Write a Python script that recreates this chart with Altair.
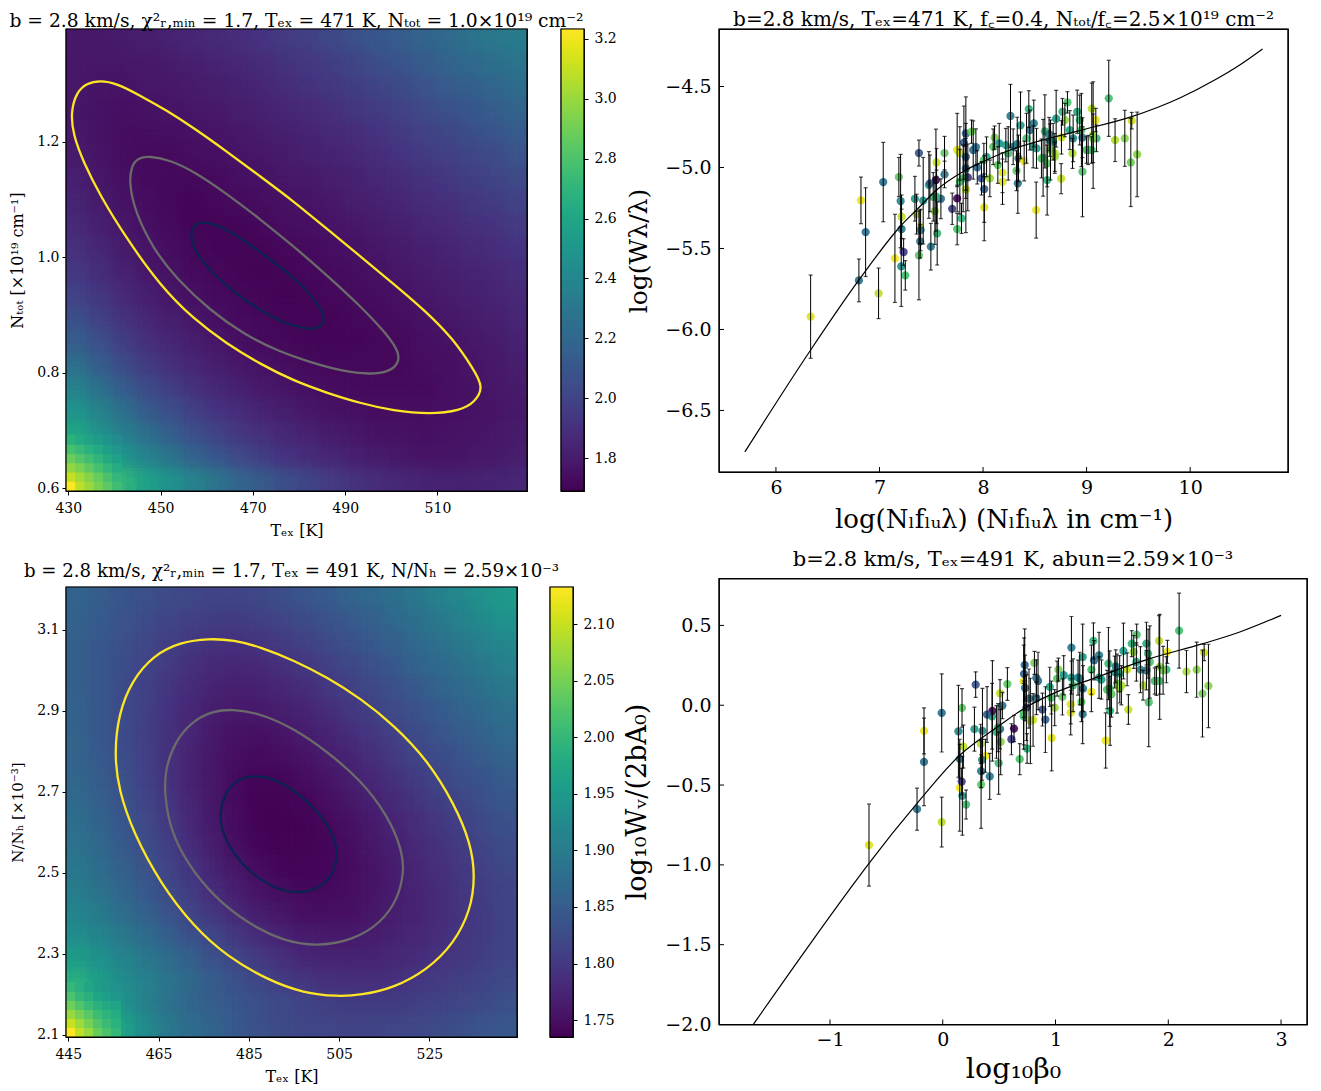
import altair as alt
import numpy as np
import pandas as pd

alt.data_transformers.disable_max_rows()

SERIF = "DejaVu Serif"

# ---------- chi-square maps (rows from top to bottom) ----------
T1_DOMAIN = [429.5, 529.4]
N1_DOMAIN = [0.595, 1.395]
CHI1 = [
[1.79,1.79,1.80,1.81,1.83,1.85,1.87,1.89,1.92,1.95,1.98,2.02,2.06,2.10,2.14,2.18,2.22,2.26,2.30,2.33],
[1.78,1.78,1.78,1.79,1.80,1.82,1.84,1.86,1.88,1.91,1.94,1.97,2.01,2.05,2.09,2.13,2.17,2.21,2.25,2.28],
[1.78,1.77,1.77,1.78,1.78,1.80,1.81,1.83,1.85,1.88,1.91,1.94,1.97,2.00,2.04,2.08,2.12,2.16,2.19,2.23],
[1.78,1.76,1.75,1.76,1.77,1.78,1.79,1.81,1.83,1.85,1.87,1.90,1.93,1.96,1.99,2.03,2.07,2.10,2.14,2.18],
[1.79,1.76,1.74,1.74,1.75,1.76,1.77,1.79,1.80,1.82,1.84,1.87,1.89,1.92,1.95,1.99,2.02,2.05,2.09,2.13],
[1.80,1.77,1.74,1.73,1.73,1.74,1.75,1.77,1.78,1.80,1.82,1.84,1.86,1.89,1.92,1.95,1.98,2.01,2.04,2.08],
[1.82,1.78,1.75,1.73,1.72,1.72,1.73,1.75,1.76,1.78,1.79,1.81,1.83,1.86,1.88,1.91,1.94,1.97,2.00,2.03],
[1.84,1.80,1.76,1.74,1.72,1.71,1.72,1.73,1.74,1.76,1.77,1.79,1.81,1.83,1.85,1.88,1.90,1.93,1.96,1.99],
[1.87,1.82,1.78,1.75,1.73,1.71,1.71,1.71,1.72,1.74,1.75,1.77,1.78,1.80,1.82,1.85,1.87,1.90,1.92,1.95],
[1.90,1.85,1.80,1.77,1.74,1.72,1.71,1.71,1.71,1.72,1.73,1.75,1.76,1.78,1.80,1.82,1.84,1.87,1.89,1.92],
[1.94,1.88,1.83,1.79,1.76,1.73,1.72,1.71,1.70,1.71,1.72,1.73,1.74,1.76,1.78,1.80,1.82,1.84,1.86,1.89],
[1.99,1.93,1.87,1.82,1.78,1.75,1.73,1.72,1.71,1.70,1.71,1.72,1.73,1.74,1.76,1.78,1.80,1.82,1.84,1.87],
[2.05,1.98,1.91,1.86,1.81,1.78,1.75,1.73,1.72,1.71,1.71,1.71,1.72,1.73,1.74,1.76,1.78,1.80,1.82,1.85],
[2.14,2.05,1.97,1.90,1.85,1.81,1.78,1.75,1.73,1.72,1.71,1.71,1.71,1.72,1.73,1.75,1.76,1.78,1.80,1.83],
[2.24,2.13,2.04,1.96,1.90,1.85,1.81,1.78,1.76,1.74,1.73,1.72,1.72,1.72,1.72,1.74,1.75,1.77,1.79,1.81],
[2.36,2.24,2.13,2.04,1.97,1.91,1.86,1.82,1.79,1.77,1.75,1.74,1.73,1.73,1.73,1.73,1.75,1.76,1.78,1.80],
[2.48,2.36,2.24,2.13,2.05,1.98,1.92,1.88,1.84,1.81,1.78,1.76,1.75,1.74,1.74,1.74,1.75,1.76,1.77,1.79],
[2.60,2.47,2.35,2.25,2.15,2.07,2.00,1.94,1.90,1.86,1.83,1.80,1.78,1.76,1.76,1.75,1.76,1.77,1.78,1.80],
[2.80,2.62,2.48,2.37,2.28,2.18,2.10,2.03,1.97,1.92,1.88,1.85,1.82,1.80,1.78,1.77,1.77,1.78,1.79,1.81],
[3.10,2.86,2.70,2.58,2.47,2.37,2.28,2.19,2.12,2.05,2.00,1.95,1.91,1.88,1.86,1.84,1.83,1.83,1.84,1.85],
]
# finer reading of the steep lower-left corner (rows from the bottom edge up)
CORNER1 = [
[3.23,3.08,3.00,2.92,2.84,2.76],
[3.10,3.02,2.95,2.87,2.79,2.71],
[2.98,2.92,2.85,2.78,2.71,2.64],
[2.88,2.82,2.76,2.70,2.63,2.57],
[2.78,2.73,2.67,2.62,2.56,2.50],
[2.68,2.63,2.58,2.53,2.48,2.43],
]
T2_DOMAIN = [444.5, 544.4]
A2_DOMAIN = [2.095, 3.205]
CHI2 = [
[1.860,1.850,1.840,1.832,1.825,1.820,1.816,1.816,1.820,1.828,1.838,1.848,1.858,1.868,1.880,1.893,1.907,1.922,1.936,1.950],
[1.858,1.847,1.836,1.826,1.817,1.810,1.806,1.805,1.808,1.815,1.824,1.834,1.845,1.856,1.868,1.881,1.895,1.909,1.923,1.936],
[1.856,1.844,1.832,1.820,1.809,1.799,1.792,1.790,1.794,1.802,1.811,1.821,1.832,1.844,1.856,1.869,1.882,1.896,1.909,1.922],
[1.856,1.843,1.829,1.815,1.802,1.791,1.782,1.779,1.781,1.789,1.798,1.809,1.820,1.832,1.844,1.857,1.870,1.883,1.896,1.908],
[1.856,1.842,1.827,1.812,1.797,1.784,1.774,1.769,1.770,1.777,1.786,1.797,1.808,1.820,1.833,1.846,1.859,1.871,1.883,1.895],
[1.857,1.842,1.826,1.810,1.794,1.779,1.767,1.761,1.761,1.766,1.775,1.785,1.797,1.809,1.822,1.835,1.848,1.860,1.871,1.883],
[1.859,1.843,1.827,1.809,1.792,1.776,1.762,1.754,1.752,1.756,1.764,1.774,1.786,1.798,1.811,1.824,1.837,1.849,1.860,1.872],
[1.862,1.846,1.828,1.810,1.792,1.774,1.759,1.749,1.745,1.748,1.755,1.764,1.775,1.788,1.801,1.814,1.827,1.838,1.850,1.861],
[1.866,1.849,1.831,1.813,1.793,1.774,1.758,1.746,1.740,1.741,1.747,1.755,1.766,1.778,1.791,1.804,1.817,1.828,1.840,1.851],
[1.871,1.854,1.836,1.817,1.796,1.776,1.758,1.745,1.738,1.737,1.741,1.748,1.758,1.770,1.782,1.795,1.807,1.819,1.831,1.842],
[1.878,1.861,1.842,1.822,1.801,1.780,1.761,1.747,1.738,1.736,1.737,1.743,1.752,1.763,1.775,1.787,1.799,1.811,1.823,1.834],
[1.885,1.867,1.848,1.829,1.808,1.786,1.767,1.751,1.741,1.737,1.737,1.741,1.748,1.758,1.769,1.781,1.793,1.805,1.816,1.827],
[1.893,1.875,1.855,1.836,1.815,1.795,1.775,1.759,1.747,1.741,1.739,1.741,1.746,1.755,1.765,1.776,1.788,1.799,1.810,1.821],
[1.902,1.884,1.865,1.845,1.824,1.804,1.785,1.769,1.756,1.748,1.744,1.744,1.748,1.755,1.764,1.774,1.785,1.796,1.806,1.817],
[1.915,1.897,1.878,1.857,1.836,1.816,1.797,1.781,1.767,1.758,1.752,1.750,1.752,1.758,1.766,1.775,1.785,1.795,1.804,1.814],
[1.930,1.915,1.895,1.875,1.855,1.835,1.818,1.800,1.784,1.772,1.764,1.761,1.761,1.765,1.771,1.779,1.787,1.796,1.805,1.814],
[1.955,1.935,1.915,1.895,1.875,1.855,1.835,1.818,1.802,1.789,1.779,1.774,1.773,1.775,1.780,1.786,1.793,1.800,1.808,1.816],
[1.985,1.955,1.930,1.910,1.890,1.870,1.850,1.833,1.818,1.806,1.797,1.791,1.788,1.788,1.791,1.796,1.802,1.808,1.815,1.822],
[2.030,1.975,1.940,1.910,1.885,1.865,1.852,1.842,1.832,1.823,1.815,1.809,1.805,1.804,1.805,1.808,1.813,1.819,1.825,1.831],
[2.100,2.000,1.965,1.925,1.895,1.875,1.860,1.845,1.835,1.825,1.820,1.817,1.815,1.815,1.817,1.820,1.825,1.830,1.838,1.844],
]
CORNER2 = [
[2.133,2.095,2.070,2.040,2.020,2.000],
[2.100,2.075,2.050,2.025,2.005,1.990],
[2.070,2.050,2.030,2.008,1.992,1.980],
[2.045,2.025,2.005,1.988,1.975,1.965],
[2.020,2.000,1.985,1.970,1.958,1.945],
[2.000,1.985,1.970,1.955,1.945,1.935],
]
C1_DOMAIN = [1.69, 3.233]
C2_DOMAIN = [1.735, 2.133]

# ---------- contours ----------
C1_YEL_T = [436.86,440.48,445.53,451.32,457.10,464.32,471.55,478.77,486.00,493.22,500.45,507.67,513.45,517.79,520.00,518.15,514.90,508.40,500.45,493.22,486.00,478.77,471.55,464.32,457.10,449.87,442.64,436.86,433.25,431.08,430.51,431.81,433.97]
C1_YEL_N = [1.306,1.301,1.280,1.254,1.224,1.183,1.140,1.097,1.049,1.002,0.954,0.905,0.858,0.806,0.775,0.749,0.734,0.728,0.734,0.747,0.765,0.786,0.815,0.850,0.893,0.951,1.032,1.107,1.165,1.211,1.251,1.286,1.301]
C1_GRY_T = [447.56,452.04,457.10,464.32,471.55,478.77,486.00,493.22,499.00,501.75,501.53,499.36,495.39,489.61,482.38,475.16,467.93,460.71,453.48,448.42,444.45,443.15,443.73,445.17]
C1_GRY_N = [1.175,1.168,1.149,1.110,1.066,1.019,0.969,0.916,0.867,0.835,0.815,0.801,0.797,0.802,0.818,0.838,0.867,0.908,0.962,1.014,1.078,1.130,1.159,1.172]
C1_NAV_T = [458.90,462.88,468.66,475.16,480.94,484.91,485.64,484.55,482.02,477.33,471.55,465.77,460.71,457.46,456.37,457.10]
C1_NAV_N = [1.062,1.055,1.026,0.988,0.951,0.910,0.890,0.877,0.875,0.883,0.908,0.939,0.977,1.009,1.038,1.055]

C2_YEL_T = [476.13,481.67,487.59,494.98,502.38,509.77,517.16,524.56,530.47,534.17,535.13,534.17,530.47,524.56,517.16,509.77,504.59,497.20,489.07,480.19,472.80,465.41,459.49,456.16,455.20,456.16,459.12,463.93,469.84]
C2_YEL_A = [3.078,3.074,3.057,3.024,2.982,2.930,2.864,2.778,2.671,2.573,2.491,2.409,2.326,2.261,2.216,2.198,2.195,2.203,2.236,2.294,2.367,2.474,2.597,2.704,2.794,2.893,2.975,3.037,3.069]
C2_GRY_T = [481.30,487.59,494.98,502.38,509.77,515.68,519.01,519.38,517.90,514.20,508.29,500.16,492.76,484.63,477.24,471.32,467.62,466.37,466.37,468.73,472.80,477.24]
C2_GRY_A = [2.904,2.893,2.856,2.799,2.729,2.643,2.556,2.499,2.433,2.376,2.335,2.318,2.331,2.376,2.441,2.523,2.606,2.688,2.753,2.827,2.877,2.899]
C2_NAV_T = [486.48,490.55,494.98,500.16,503.85,504.74,503.85,500.90,495.72,490.55,485.37,480.93,478.72,478.57,480.19,483.15]
C2_NAV_A = [2.740,2.733,2.704,2.655,2.593,2.548,2.499,2.462,2.448,2.462,2.499,2.556,2.614,2.655,2.708,2.733]

# ---------- curve-of-growth points ----------
X_TOP = [6.335,6.801,6.991,6.821,6.866,7.036,7.149,7.187,7.204,7.213,7.213,7.233,7.210,7.249,7.381,7.342,7.358,7.390,7.397,7.393,7.381,7.496,7.422,7.477,7.545,7.487,7.551,7.628,7.628,7.593,7.535,7.557,7.551,7.750,7.702,7.750,7.750,7.792,7.776,7.834,7.815,7.834,7.834,7.853,7.834,7.808,7.889,7.931,7.944,7.985,8.011,8.011,8.066,8.034,8.008,8.111,8.156,8.143,8.188,8.188,8.220,8.265,8.243,8.342,8.323,8.336,8.397,8.362,8.330,8.442,8.420,8.490,8.452,8.516,8.513,8.597,8.638,8.580,8.619,8.619,8.693,8.651,8.754,8.706,8.677,8.767,8.815,8.790,8.757,8.864,8.870,8.909,8.934,8.950,8.960,8.960,8.999,9.050,9.089,9.095,9.047,9.063,9.214,9.275,9.369,9.427,9.488,9.436,8.098,8.484,8.564,8.693,7.776,7.519,9.015,9.063,7.905,8.291,8.838,8.645]
Y_TOP = [-5.921,-5.697,-5.777,-5.203,-5.399,-5.090,-5.561,-5.059,-5.207,-5.304,-5.380,-5.522,-5.611,-5.666,-4.911,-5.193,-5.288,-5.366,-5.386,-5.456,-5.543,-5.489,-5.205,-5.108,-5.078,-5.098,-4.969,-4.911,-5.043,-5.193,-5.269,-5.407,-5.181,-4.892,-5.255,-5.191,-5.380,-5.314,-4.913,-4.790,-4.847,-4.934,-5.006,-5.061,-5.135,-5.067,-4.779,-4.874,-4.999,-5.067,-5.133,-5.246,-5.067,-4.934,-4.954,-4.816,-4.851,-4.985,-5.032,-5.088,-4.862,-4.682,-4.913,-4.944,-5.020,-5.098,-4.960,-4.740,-4.855,-4.639,-4.820,-4.728,-4.769,-4.882,-5.263,-4.777,-4.794,-4.940,-4.975,-5.078,-4.913,-4.892,-5.069,-4.699,-4.841,-4.656,-4.598,-4.707,-4.814,-4.913,-4.820,-4.656,-4.707,-4.769,-4.816,-5.026,-4.892,-4.637,-4.707,-4.820,-4.892,-4.800,-4.573,-4.831,-4.820,-4.969,-4.919,-4.711,-4.872,-4.872,-4.944,-4.934,-5.088,-5.181,-4.892,-4.820,-4.892,-4.872,-4.769,-4.831]
X_BOT = [-0.654,-0.228,-0.009,-0.166,-0.166,-0.009,0.151,0.171,0.139,0.183,0.151,0.168,0.174,0.207,0.292,0.281,0.337,0.378,0.349,0.340,0.340,0.417,0.352,0.437,0.440,0.393,0.508,0.573,0.529,0.508,0.514,0.496,0.476,0.718,0.609,0.632,0.683,0.748,0.801,0.727,0.721,0.730,0.765,0.742,0.777,0.718,0.813,0.830,0.830,0.884,0.910,0.966,0.993,0.949,0.963,1.026,1.073,1.061,1.135,1.135,1.141,1.141,1.156,1.244,1.230,1.241,1.318,1.241,1.215,1.336,1.318,1.386,1.342,1.407,1.445,1.469,1.534,1.481,1.496,1.484,1.584,1.546,1.646,1.602,1.569,1.676,1.720,1.694,1.635,1.776,1.753,1.806,1.821,1.836,1.806,1.827,1.880,1.918,1.992,1.983,1.924,1.924,2.096,2.161,2.252,2.303,2.356,2.318,1.014,1.386,1.457,1.570,0.718,0.490,1.895,1.954,0.845,1.200,1.717,1.525]
Y_BOT = [-0.876,-0.651,-0.732,-0.161,-0.355,-0.048,-0.517,-0.017,-0.163,-0.259,-0.336,-0.478,-0.567,-0.622,0.129,-0.150,-0.242,-0.317,-0.342,-0.413,-0.497,-0.446,-0.161,-0.069,-0.035,-0.058,0.075,0.133,-0.002,-0.150,-0.229,-0.363,-0.167,0.150,-0.213,-0.146,-0.338,-0.271,-0.092,0.252,0.196,0.108,0.042,-0.015,-0.098,-0.069,0.265,0.171,0.044,-0.027,-0.090,-0.205,-0.015,0.115,0.048,0.223,0.188,0.052,0.006,-0.046,0.173,0.361,0.125,0.104,0.021,-0.056,0.083,0.302,0.167,0.403,0.223,0.313,0.282,0.161,-0.221,0.261,0.244,0.104,0.069,-0.035,0.125,0.136,-0.027,0.340,0.198,0.386,0.442,0.334,0.225,0.125,0.223,0.386,0.323,0.271,0.219,0.019,0.152,0.403,0.334,0.223,0.152,0.240,0.467,0.211,0.223,0.073,0.121,0.330,0.167,0.173,0.098,0.104,-0.048,-0.140,0.152,0.219,0.152,0.173,0.271,0.208]
ERR = [.257,.132,.156,.144,.274,.245,.272,.121,.288,.134,.123,.082,.247,.091,.080,.138,.123,.103,.128,.103,.274,.144,.267,.206,.315,.175,.086,.103,.082,.123,.206,.195,.165,.226,.097,.082,.097,.093,.165,.226,.226,.206,.185,.206,.267,.206,.072,.113,.103,.103,.206,.206,.113,.123,.103,.072,.123,.113,.123,.140,.103,.195,.165,.144,.123,.185,.123,.206,.165,.113,.154,.144,.123,.123,.173,.226,.103,.237,.144,.216,.123,.185,.093,.175,.113,.082,.066,.103,.103,.093,.144,.134,.154,.226,.123,.278,.082,.158,.072,.082,.082,.329,.235,.132,.173,.272,.261,.051,.110,.130,.120,.090,.200,.150,.090,.150,.180,.110,.120,.100]
SHADE = [.95,.38,.90,.97,.38,.37,.98,.75,.45,.90,.40,.18,.50,.70,.27,.55,.88,.98,.45,.42,.75,.40,.50,.60,.02,.30,.92,.75,.38,.35,.82,.68,.65,.97,.18,.02,.72,.65,.93,.32,.30,.35,.38,.17,.90,.70,.78,.36,.35,.25,.30,.95,.85,.60,.72,.80,.50,.75,.95,.95,.55,.40,.70,.40,.75,.40,.97,.55,.42,.65,.70,.42,.35,.55,.97,.68,.40,.70,.75,.65,.88,.80,.92,.55,.60,.65,.72,.85,.92,.88,.45,.62,.68,.72,.38,.72,.70,.90,.97,.65,.70,.85,.70,.88,.82,.78,.82,.93,.75,.55,.72,.85,.72,.68,.72,.80,.36,.45,.60,.50]

CURVE_TOP_X = [5.70,6.335,6.80,7.213,7.358,7.551,7.805,8.034,8.288,8.613,8.951,9.436,9.90,10.237,10.479,10.70]
CURVE_TOP_Y = [-6.756,-6.127,-5.696,-5.355,-5.262,-5.139,-5.026,-4.954,-4.886,-4.824,-4.769,-4.686,-4.571,-4.46,-4.367,-4.268]
CURVE_BOT_X = [-1.70,-0.831,-0.654,-0.228,0.151,0.506,0.742,0.978,1.333,1.836,2.308,2.634,3.0]
CURVE_BOT_Y = [-2.02,-1.158,-0.99,-0.615,-0.313,-0.125,-0.011,0.073,0.167,0.292,0.386,0.459,0.563]

TOP_X_TICKS = [6, 7, 8, 9, 10]
TOP_Y_TICKS = [-6.5, -6.0, -5.5, -5.0, -4.5]
BOT_X_TICKS = [-1, 0, 1, 2, 3]
BOT_Y_TICKS = [-2.0, -1.5, -1.0, -0.5, 0.0, 0.5]

TOP_X_DOM = [5.45, 10.945]
TOP_Y_DOM = [-6.88, -4.145]
BOT_X_DOM = [-1.984, 3.23]
BOT_Y_DOM = [-2.0, 0.794]

# sub-cell offsets of the blended copies of each map (anti-aliasing of the 20x20 cells)
SOFT = [(-3/8, 1/8, 1/2), (-1/8, -3/8, 1/3), (1/8, 3/8, 1/4), (3/8, -1/8, 1/5)]


def frame(w, h):
    return alt.Chart(pd.DataFrame({"a": [0]})).mark_rect(fillOpacity=0, stroke="black", strokeWidth=1.2).encode(
        x=alt.value(0), x2=alt.value(w), y=alt.value(0), y2=alt.value(h))


def heat(grid, corner, xd, yd, cd, xticks, yticks, xtitle, ytitle, w, h, yfmt, xts, yts):
    g = np.array(grid)
    nr, nc = g.shape
    dx = (xd[1] - xd[0]) / nc
    dy = (yd[1] - yd[0]) / nr
    xscale = alt.Scale(domain=xd, nice=False, zero=False)
    yscale = alt.Scale(domain=yd, nice=False, zero=False)
    cscale = alt.Scale(scheme="viridis", domain=cd, clamp=True)

    def cells(ox, oy, over):
        rows = []
        for j in range(nr):
            for i in range(nc):
                rows.append(dict(x0=xd[0] + (i + ox) * dx, x1=xd[0] + (i + ox + 1 + over) * dx,
                                 y0=yd[1] - (j + oy) * dy, y1=yd[1] - (j + oy + 1 + over) * dy, v=g[j, i]))
        return pd.DataFrame(rows)

    base = alt.Chart(cells(0, 0, 0.06)).mark_rect(clip=True).encode(
        x=alt.X("x0:Q", scale=xscale,
                axis=alt.Axis(values=xticks, title=xtitle, grid=False, domain=False, format="d",
                              labelFont=SERIF, labelFontSize=14, titleFont=SERIF, titleFontSize=xts,
                              titleFontWeight="normal", tickColor="black", labelColor="black",
                              tickSize=4, labelPadding=6, titlePadding=7, labelFlush=False)),
        x2="x1:Q",
        y=alt.Y("y0:Q", scale=yscale,
                axis=alt.Axis(values=yticks, title=ytitle, grid=False, domain=False, format=yfmt,
                              labelFont=SERIF, labelFontSize=14, titleFont=SERIF, titleFontSize=yts,
                              titleFontWeight="normal", tickColor="black", labelColor="black",
                              tickSize=4, labelPadding=3, titlePadding=11, labelFlush=False)),
        y2="y1:Q",
        color=alt.Color("v:Q", scale=cscale, legend=None),
    )
    copies = [
        alt.Chart(cells(ox, oy, 0)).mark_rect(clip=True, opacity=op).encode(
            x=alt.X("x0:Q", scale=xscale), x2="x1:Q",
            y=alt.Y("y0:Q", scale=yscale), y2="y1:Q",
            color=alt.Color("v:Q", scale=cscale, legend=None),
        )
        for ox, oy, op in SOFT
    ]
    # corner table: cells 2.5 times finer than the main grid
    fx, fy = dx / 2.5, dy / 2.5
    rows = []
    for j, row in enumerate(corner):
        for i, val in enumerate(row):
            rows.append(dict(x0=xd[0] + i * fx, x1=xd[0] + (i + 1.1) * fx,
                             y0=yd[0] + j * fy, y1=yd[0] + (j + 1.1) * fy, v=val))
    fine = alt.Chart(pd.DataFrame(rows)).mark_rect(clip=True).encode(
        x=alt.X("x0:Q", scale=xscale), x2="x1:Q",
        y=alt.Y("y0:Q", scale=yscale), y2="y1:Q",
        color=alt.Color("v:Q", scale=cscale, legend=None),
    )
    return [base] + copies + [fine]


def contour(ts, ns, colour, xd, yd):
    df = pd.DataFrame({"t": ts, "n": ns, "k": range(len(ts))})
    return alt.Chart(df).mark_line(interpolate="basis-closed", color=colour, strokeWidth=2.3, clip=True).encode(
        x=alt.X("t:Q", scale=alt.Scale(domain=xd, nice=False, zero=False)),
        y=alt.Y("n:Q", scale=alt.Scale(domain=yd, nice=False, zero=False)),
        order="k:Q",
    )


def cbar(cd, ticks, fmt, h):
    edges = np.linspace(cd[0], cd[1], 161)
    df = pd.DataFrame({"a": edges[:-1], "b": edges[1:] + (edges[1] - edges[0]) * 0.4,
                       "v": (edges[:-1] + edges[1:]) / 2})
    bar = alt.Chart(df).mark_rect(clip=True).encode(
        y=alt.Y("a:Q", scale=alt.Scale(domain=cd, nice=False, zero=False),
                axis=alt.Axis(orient="right", values=ticks, format=fmt, title=None, grid=False, domain=False,
                              labelFont=SERIF, labelFontSize=14, tickColor="black", labelColor="black",
                              tickSize=4, labelPadding=6, labelFlush=False)),
        y2="b:Q",
        x=alt.value(0), x2=alt.value(23),
        color=alt.Color("v:Q", scale=alt.Scale(scheme="viridis", domain=cd), legend=None),
    )
    return alt.layer(bar, frame(23, h)).properties(width=23, height=h)


def cog(xs, ys, cx, cy, xd, yd, xticks, yticks, xtitle, ytitle, w, h, xfmt, yfmt, xts, yts, xtp):
    df = pd.DataFrame({"x": xs, "y": ys, "e": ERR, "c": SHADE})
    df["lo"] = df.y - df.e
    df["hi"] = df.y + df.e
    xs_ = alt.Scale(domain=xd, nice=False, zero=False)
    ys_ = alt.Scale(domain=yd, nice=False, zero=False)
    base = alt.Chart(df)
    pts = base.mark_circle(size=68, opacity=0.92, clip=True).encode(
        x=alt.X("x:Q", scale=xs_, axis=alt.Axis(values=xticks, format=xfmt, title=xtitle, grid=False, domain=False,
                ticks=False, labelFont=SERIF, labelFontSize=19, titleFont=SERIF, titleFontSize=xts,
                titleFontWeight="normal", labelColor="black", labelPadding=6, titlePadding=xtp, labelFlush=False)),
        y=alt.Y("y:Q", scale=ys_, axis=alt.Axis(values=yticks, format=yfmt, title=ytitle, grid=False, domain=False,
                ticks=False, labelFont=SERIF, labelFontSize=19, titleFont=SERIF, titleFontSize=yts,
                titleFontWeight="normal", labelColor="black", labelPadding=8, titlePadding=13, labelFlush=False)),
        color=alt.Color("c:Q", scale=alt.Scale(scheme="viridis", domain=[0, 1]), legend=None),
    )
    bars = base.mark_rule(color="black", strokeWidth=1, clip=True).encode(
        x=alt.X("x:Q", scale=xs_), y=alt.Y("lo:Q", scale=ys_), y2="hi:Q")
    cap1 = base.mark_tick(color="black", size=4, thickness=1.2, orient="horizontal", clip=True).encode(
        x=alt.X("x:Q", scale=xs_), y=alt.Y("lo:Q", scale=ys_))
    cap2 = base.mark_tick(color="black", size=4, thickness=1.2, orient="horizontal", clip=True).encode(
        x=alt.X("x:Q", scale=xs_), y=alt.Y("hi:Q", scale=ys_))
    cdf = pd.DataFrame({"x": cx, "y": cy, "k": range(len(cx))})
    line = alt.Chart(cdf).mark_line(color="black", strokeWidth=1.2, interpolate="monotone", clip=True).encode(
        x=alt.X("x:Q", scale=xs_), y=alt.Y("y:Q", scale=ys_), order="k:Q")
    xt = alt.Chart(pd.DataFrame({"v": xticks})).mark_rule(color="black", strokeWidth=1).encode(
        x=alt.X("v:Q", scale=xs_), y=alt.value(h - 5), y2=alt.value(h))
    yt = alt.Chart(pd.DataFrame({"v": yticks})).mark_rule(color="black", strokeWidth=1).encode(
        y=alt.Y("v:Q", scale=ys_), x=alt.value(0), x2=alt.value(5))
    return alt.layer(pts, bars, cap1, cap2, line, xt, yt, frame(w, h)).properties(width=w, height=h)


def with_title(ch, text, size, offset=4):
    return ch.properties(title=alt.TitleParams(text=text, font=SERIF, fontSize=size, fontWeight="normal",
                                               color="black", offset=offset, anchor="middle", limit=800))


T1 = "b = 2.8 km/s, χ²ᵣ,ₘᵢₙ = 1.7, Tₑₓ = 471 K, Nₜₒₜ = 1.0×10¹⁹ cm⁻²"
T2 = "b = 2.8 km/s, χ²ᵣ,ₘᵢₙ = 1.7, Tₑₓ = 491 K, N/Nₕ = 2.59×10⁻³"
T3 = "b=2.8 km/s, Tₑₓ=471 K, f꜀=0.4, Nₜₒₜ/f꜀=2.5×10¹⁹ cm⁻²"
T4 = "b=2.8 km/s, Tₑₓ=491 K, abun=2.59×10⁻³"

h1 = alt.layer(
    *heat(CHI1, CORNER1, T1_DOMAIN, N1_DOMAIN, C1_DOMAIN, [430, 450, 470, 490, 510], [0.6, 0.8, 1.0, 1.2],
          "Tₑₓ [K]", "Nₜₒₜ [×10¹⁹ cm⁻¹]", 461, 462, ".1f", 16, 16),
    contour(C1_NAV_T, C1_NAV_N, "#0b2350", T1_DOMAIN, N1_DOMAIN),
    contour(C1_GRY_T, C1_GRY_N, "#6b6b6b", T1_DOMAIN, N1_DOMAIN),
    contour(C1_YEL_T, C1_YEL_N, "#fde725", T1_DOMAIN, N1_DOMAIN),
    frame(461, 462),
).properties(width=461, height=462)
h1 = with_title(h1, T1, 18.7, -2)

h2 = alt.layer(
    *heat(CHI2, CORNER2, T2_DOMAIN, A2_DOMAIN, C2_DOMAIN, [445, 465, 485, 505, 525], [2.1, 2.3, 2.5, 2.7, 2.9, 3.1],
          "Tₑₓ [K]", "N/Nₕ [×10⁻³]", 451, 450, ".1f", 16, 15.1),
    contour(C2_NAV_T, C2_NAV_A, "#0b2350", T2_DOMAIN, A2_DOMAIN),
    contour(C2_GRY_T, C2_GRY_A, "#6b6b6b", T2_DOMAIN, A2_DOMAIN),
    contour(C2_YEL_T, C2_YEL_A, "#fde725", T2_DOMAIN, A2_DOMAIN),
    frame(451, 450),
).properties(width=451, height=450)
h2 = with_title(h2, T2, 18.15, 5.5)

b1 = cbar(C1_DOMAIN, [1.8, 2.0, 2.2, 2.4, 2.6, 2.8, 3.0, 3.2], ".1f", 462)
b2 = cbar(C2_DOMAIN, [1.75, 1.80, 1.85, 1.90, 1.95, 2.00, 2.05, 2.10], ".2f", 450)

r1 = with_title(cog(X_TOP, Y_TOP, CURVE_TOP_X, CURVE_TOP_Y, TOP_X_DOM, TOP_Y_DOM, TOP_X_TICKS, TOP_Y_TICKS,
                    "log(Nₗfₗᵤλ) (Nₗfₗᵤλ in cm⁻¹)", "log(Wλ/λ)", 569, 443, "d", ".1f", 26, 25, 9), T3, 20, -2)
r2 = with_title(cog(X_BOT, Y_BOT, CURVE_BOT_X, CURVE_BOT_Y, BOT_X_DOM, BOT_Y_DOM, BOT_X_TICKS, BOT_Y_TICKS,
                    "log₁₀β₀", "log₁₀Wᵥ/(2bA₀)", 588, 446, "d", ".1f", 28.5, 27, 5), T4, 21, 7.5)

left = alt.vconcat(
    alt.hconcat(h1, b1, spacing=34, bounds="flush").resolve_scale(color="independent"),
    alt.hconcat(h2, b2, spacing=33, bounds="flush").resolve_scale(color="independent"),
    spacing=22,
).resolve_scale(color="independent")
right = alt.vconcat(r1, r2, spacing=15.5).resolve_scale(color="independent")

chart = alt.hconcat(left, right, spacing=6).resolve_scale(color="independent").properties(
    padding={"left": 0, "top": 1, "right": 0, "bottom": 0}, background="white"
).configure_view(stroke="black", strokeWidth=1.2)

chart.save("out.html", embed_options={"renderer": "svg", "actions": False})
